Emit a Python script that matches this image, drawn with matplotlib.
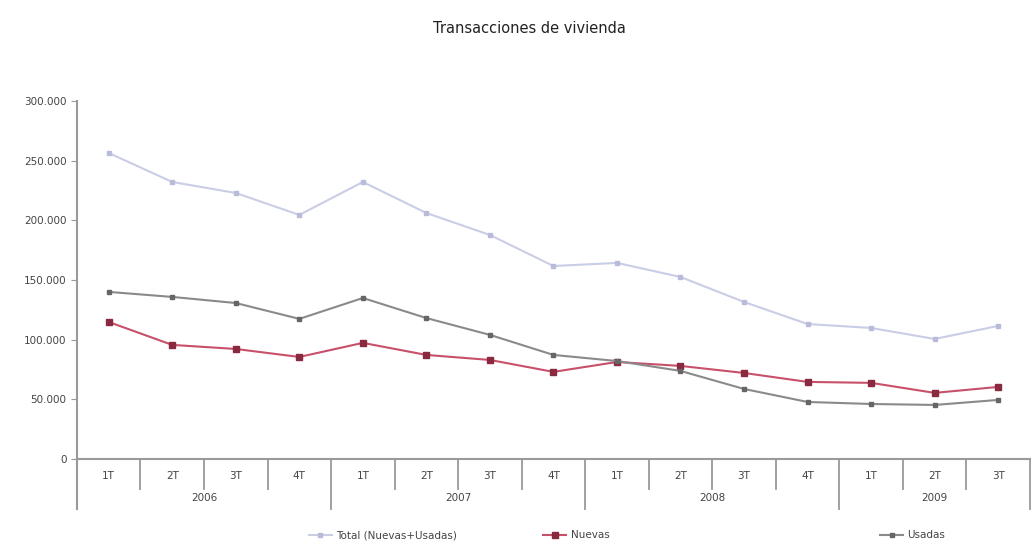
import matplotlib
matplotlib.use("Agg")
import matplotlib.pyplot as plt
from matplotlib.ticker import FuncFormatter
import matplotlib.transforms as mtransforms

# Datos: transacciones trimestrales (1T 2006 - 3T 2009)
quarters = ["1T", "2T", "3T", "4T", "1T", "2T", "3T", "4T",
            "1T", "2T", "3T", "4T", "1T", "2T", "3T"]
years = ["2006", "2007", "2008", "2009"]
year_sizes = [4, 4, 4, 3]

total = [256300, 232000, 222800, 204400, 232000, 206000, 187600, 161600,
         164200, 152400, 131500, 113000, 109700, 100500, 111400]
nuevas = [114700, 95500, 92100, 85400, 97200, 87100, 82900, 72900,
          81200, 77900, 72000, 64500, 63700, 55300, 60300]
usadas = [139900, 135700, 130600, 117300, 134800, 118000, 103900, 87100,
          82000, 73700, 58600, 47700, 46000, 45200, 49400]

TEXT = "#444444"
AXIS = "#999999"

fig = plt.figure(figsize=(10.33, 5.45), dpi=100)
ax = fig.add_axes([0.0745, 0.158, 0.9225, 0.657])

x = list(range(len(quarters)))
l1, = ax.plot(x, total, color="#c9cde6", lw=1.5, marker="s", ms=3,
              mec="#b8bcd8", mfc="#b8bcd8", label="Total (Nuevas+Usadas)")
l2, = ax.plot(x, nuevas, color="#c8506a", lw=1.5, marker="s", ms=4,
              mec="#8a2a40", mfc="#8a2a40", label="Nuevas")
l3, = ax.plot(x, usadas, color="#8a8a8a", lw=1.5, marker="s", ms=3.5,
              mec="#666666", mfc="#666666", label="Usadas")

ax.set_xlim(-0.5, len(quarters) - 0.5)
ax.set_ylim(0, 300000)
ax.set_yticks(range(0, 300001, 50000))
ax.yaxis.set_major_formatter(
    FuncFormatter(lambda v, p: f"{int(v):,}".replace(",", ".")))
ax.tick_params(axis="y", labelsize=7.5, colors=TEXT, length=4, color=AXIS)
ax.set_xticks(x)
ax.set_xticklabels(quarters, fontsize=7.5, color=TEXT)
ax.tick_params(axis="x", length=0, pad=9)

for s in ["top", "right"]:
    ax.spines[s].set_visible(False)
for s in ["left", "bottom"]:
    ax.spines[s].set_color(AXIS)
    ax.spines[s].set_linewidth(1.5)

# eje de categorias en dos niveles
trans = mtransforms.blended_transform_factory(ax.transData, ax.transAxes)
ax.plot([-0.5, -0.5], [0, -0.14], transform=trans, color=AXIS, lw=1.5,
        clip_on=False)
bounds = [0]
for n in year_sizes:
    bounds.append(bounds[-1] + n)
for i in range(1, len(quarters) + 1):
    depth = -0.14 if i in bounds else -0.085
    ax.plot([i - 0.5, i - 0.5], [0, depth], transform=trans, color=AXIS,
            lw=1.3, clip_on=False)
for yr, a, b in zip(years, bounds[:-1], bounds[1:]):
    ax.text((a + b - 1) / 2, -0.11, yr, transform=trans, ha="center",
            va="center", fontsize=7.5, color=TEXT)

fig.text(0.513, 0.948, "Transacciones de vivienda", ha="center", va="center",
         fontsize=10.5, color="#222222")

# leyenda: tres entradas separadas, como en el original
for h, xpos in [(l1, 0.29), (l2, 0.517), (l3, 0.843)]:
    fig.legend(handles=[h], loc="center left", bbox_to_anchor=(xpos, 0.018),
               frameon=False, fontsize=7.5, handlelength=2.2,
               handletextpad=0.4, labelcolor=TEXT)

fig.savefig("out.png", dpi=100)
